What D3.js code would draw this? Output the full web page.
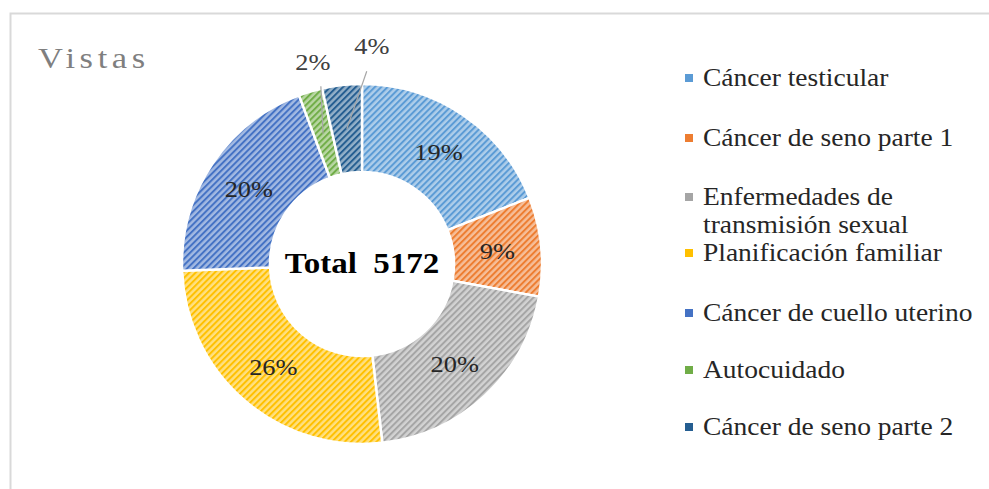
<!DOCTYPE html>
<html lang="es">
<head>
  <meta charset="UTF-8">
  <title>Vistas</title>
  <script src="https://d3js.org/d3.v7.min.js"></script>
  <style>
    body { margin: 0; padding: 0; background: #fff; }
    svg { display: block; }
    text { font-family: "Liberation Serif", "Times New Roman", serif; }
  </style>
</head>
<body>
  <div id="chart"></div>

  <script>
    const width = 989;
    const height = 489;

    // data
    const categories = [
      "Cáncer testicular",
      "Cáncer de seno parte 1",
      "Enfermedades de transmisión sexual",
      "Planificación familiar",
      "Cáncer de cuello uterino",
      "Autocuidado",
      "Cáncer de seno parte 2"
    ];
    const views = [983, 460, 1050, 1355, 1030, 110, 184];
    const colors = ["#5B9BD5", "#ED7D31", "#A5A5A5", "#FFC000", "#4472C4", "#70AD47", "#255E91"];
    const total = d3.sum(views);

    // labels that sit outside the ring, with a small angle nudge (degrees)
    const outsideLabels = { "Autocuidado": 3, "Cáncer de seno parte 2": 9 };

    const cx = 362, cy = 264;
    const outerR = 180, innerR = 92;
    const stretch = 1.1; // text in the original is a bit wide

    const svg = d3.select("#chart")
      .append("svg")
      .attr("width", width)
      .attr("height", height);

    // text helper, stretched horizontally
    function label(parent, x, y, str) {
      return parent.append("text")
        .attr("transform", `translate(${x},${y}) scale(${stretch},1)`)
        .text(str);
    }

    // striped fills
    const defs = svg.append("defs");
    colors.forEach((c, i) => {
      const light = d3.interpolateRgb(c, "#ffffff")(0.5);
      const p = defs.append("pattern")
        .attr("id", "stripe" + i)
        .attr("patternUnits", "userSpaceOnUse")
        .attr("width", 4.5)
        .attr("height", 4.5)
        .attr("patternTransform", "rotate(45)");
      p.append("rect").attr("width", 4.5).attr("height", 4.5).attr("fill", light);
      p.append("rect").attr("width", 2).attr("height", 4.5).attr("fill", c);
    });

    // frame (only top and left visible)
    svg.append("path")
      .attr("d", "M10.5,489V13.5H989")
      .attr("fill", "none")
      .attr("stroke", "#d9d9d9")
      .attr("stroke-width", 2);

    svg.append("text")
      .attr("transform", "translate(38,68) scale(1.15,1)")
      .attr("font-size", 30)
      .attr("letter-spacing", 4)
      .attr("fill", "#7f7f7f")
      .text("Vistas");

    const pie = d3.pie().sort(null).value(d => d);
    const arcs = pie(views);

    const arc = d3.arc().innerRadius(innerR).outerRadius(outerR);
    const midArc = d3.arc().innerRadius((innerR + outerR) / 2).outerRadius((innerR + outerR) / 2);

    const g = svg.append("g").attr("transform", `translate(${cx},${cy})`);

    g.selectAll("path.slice")
      .data(arcs)
      .enter()
      .append("path")
      .attr("class", "slice")
      .attr("d", arc)
      .attr("fill", (d, i) => `url(#stripe${i})`)
      .attr("stroke", "#fff")
      .attr("stroke-width", 2.5);

    const pct = d => Math.round(d.value / total * 100) + "%";

    arcs.forEach((d, i) => {
      const name = categories[i];
      const [mx, my] = midArc.centroid(d);
      if (name in outsideLabels) {
        const a = (d.startAngle + d.endAngle) / 2 + outsideLabels[name] * Math.PI / 180;
        const r = name === "Autocuidado" ? 208 : 218;
        const lx = r * Math.sin(a), ly = -r * Math.cos(a);
        const ex = (r - 25) * Math.sin(a) + (name === "Autocuidado" ? 2 : -4);
        const ey = -(r - 25) * Math.cos(a);
        g.append("line")
          .attr("x1", mx).attr("y1", my)
          .attr("x2", ex).attr("y2", ey)
          .attr("stroke", "#a6a6a6")
          .attr("stroke-width", 1.2);
        label(g, lx, ly, pct(d))
          .attr("text-anchor", "middle")
          .attr("dominant-baseline", "central")
          .attr("font-size", 24)
          .attr("fill", "#404040");
      } else {
        label(g, mx, my, pct(d))
          .attr("text-anchor", "middle")
          .attr("dominant-baseline", "central")
          .attr("font-size", 24)
          .attr("fill", "#262626");
      }
    });

    label(g, 0, 9, "Total  " + total)
      .attr("text-anchor", "middle")
      .attr("font-size", 30)
      .attr("font-weight", "bold")
      .style("white-space", "pre");

    // legend
    const legendLines = [
      ["Cáncer testicular"],
      ["Cáncer de seno parte 1"],
      ["Enfermedades de", "transmisión sexual"],
      ["Planificación familiar"],
      ["Cáncer de cuello uterino"],
      ["Autocuidado"],
      ["Cáncer de seno parte 2"]
    ];
    const legendY = [78, 138, 197, 253, 313, 370, 427];

    const legend = svg.append("g");
    legendLines.forEach((lines, i) => {
      legend.append("rect")
        .attr("x", 685)
        .attr("y", legendY[i] - 4)
        .attr("width", 8)
        .attr("height", 8)
        .attr("fill", colors[i]);
      lines.forEach((t, j) => {
        label(legend, 703, legendY[i] + j * 28, t)
          .attr("dominant-baseline", "central")
          .attr("font-size", 25)
          .attr("fill", "#262626");
      });
    });
  </script>
</body>
</html>
